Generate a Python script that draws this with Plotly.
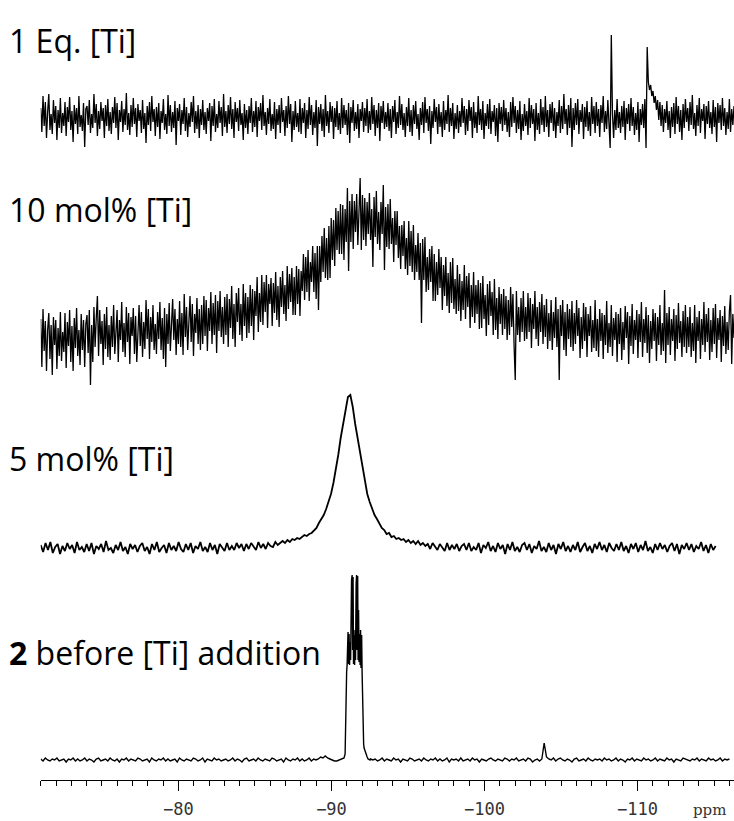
import numpy as np
import plotly.graph_objects as go

# ---------------- data (intensities in arbitrary units) ----------------
# 1 Eq. [Ti]
eq1_ppm_range = (-71.0, -116.3)
eq1_int = [
    10,-14,22,-8,16,-20,6,24,-12,4,-16,18,-5,12,-22,8,-10,20,-15,5,
    -8,16,-18,11,-4,21,-12,7,-24,13,-6,10,-16,22,-9,3,-13,15,-29,9,
    12,-7,18,-15,4,-10,24,-5,14,-18,7,-11,16,-3,10,-20,13,-8,19,-13,
    6,-16,11,-5,21,-10,15,-22,8,-4,17,-14,9,-7,25,-12,5,-17,13,-9,
    20,-6,10,-19,14,-3,8,-15,18,-11,5,-25,12,-7,16,-13,22,-4,9,-18,
    11,-9,15,-21,7,-5,19,-12,4,-16,23,-8,13,-14,6,-10,17,-27,10,-3,
    14,-17,8,-6,20,-13,11,-19,5,-9,16,-4,22,-15,7,-11,13,-20,9,-7,
    18,-12,6,-16,10,-3,15,-23,12,-8,19,-14,4,-10,17,-5,11,-18,24,-9,
    7,-15,13,-6,21,-11,9,-20,16,-4,10,-13,18,-7,5,-22,14,-10,8,-16,
    12,-5,20,-14,7,-9,17,-19,11,-3,15,-12,23,-8,6,-17,10,-6,19,-13,
    4,-11,16,-21,9,-7,13,-15,20,-4,8,-18,12,-10,22,-6,14,-24,7,-12,
    17,-9,5,-14,19,-16,10,-5,15,-20,8,-11,21,-7,13,-17,6,-10,18,-28,
    11,-6,14,-13,9,-19,23,-8,7,-15,16,-4,12,-21,10,-9,17,-12,5,-16,
    20,-10,13,-7,8,-17,15,-25,11,-5,18,-13,6,-11,14,-20,9,-3,16,-14,
    10,-8,19,-15,7,-12,21,-6,13,-18,8,-10,15,-23,12,-5,17,-11,6,-9,
    15,-13,9,-20,12,-4,18,-16,6,-10,22,-7,14,-12,5,-19,11,-8,20,-14,
    8,-18,13,-6,17,-11,4,-22,10,-7,16,-15,21,-5,9,-13,12,-26,7,-10,
    19,-4,11,-16,14,-9,6,-19,17,-12,8,-6,23,-14,10,-8,15,-21,5,-11,
    13,-15,7,-9,20,-5,12,-17,9,-13,18,-3,11,-20,16,-10,6,-15,22,-7,
    9,-12,17,-21,5,-8,14,-11,19,-16,7,-4,13,-18,10,-24,15,-6,11,-13,
    18,-7,10,-14,6,-19,16,-9,21,-5,12,-15,8,-11,17,-22,4,-13,14,-8,
    7,-17,20,-10,13,-6,9,-23,15,-12,5,-16,19,-7,11,-14,22,-9,8,-19,
    14,-5,16,-13,10,-20,6,-8,18,-15,12,-11,24,-6,9,-17,13,-10,20,-29,
    10,-12,15,-7,19,-16,8,-4,14,-21,11,-9,17,-13,6,-18,21,-6,12,-15,
    16,-8,9,-19,13,-5,22,-14,7,-11,18,-17,-30,83,4,-20,8,-12,19,-10,
    6,-15,12,-9,17,-22,10,-6,14,-13,20,-8,11,-17,5,-12,16,-24,9,-7,
    14,-10,19,-30,71,36,28,33,22,27,15,22,8,18,-2,16,-8,13,-14,9,
    -5,17,-12,7,-20,11,-9,15,-16,21,-6,12,-14,8,-22,14,-10,19,-4,10,
    -13,16,-7,23,-11,5,-18,13,-8,20,-15,9,-3,14,-21,12,-6,17,-10,6,
    -16,18,-9,11,-24,15,-5,13,-12,20,-8,10,-17,6,-11,19,-14,9,-7,12,
]

# 10 mol% [Ti]
mol10_ppm_range = (-71.0, -116.3)
mol10_int = [
    16,-32,26,-16,14,-36,5,22,-24,10,-40,18,-10,15,-34,7,-21,23,-26,3,
    -17,22,-33,13,-11,25,-27,9,-36,17,-13,27,-21,5,-30,21,-15,15,-32,11,
    20,-18,25,-50,10,-27,28,-12,17,39,-21,25,-9,14,-30,21,-14,28,-22,10,
    -25,19,-12,30,-19,9,25,-27,15,-5,33,-17,12,-22,28,-7,22,-29,18,-1,
    27,-19,19,-27,14,30,-11,23,-22,13,-14,35,-4,26,-24,18,-7,30,-15,11,
    -19,23,-4,33,-15,17,-24,27,-32,21,-9,32,-16,17,36,-5,26,-20,16,-9,
    34,-12,22,-20,41,-2,28,-15,17,39,-7,31,-21,21,2,37,-9,26,-15,30,
    -9,39,-1,35,-16,27,4,43,-9,32,0,40,-18,34,4,44,-2,28,-9,38,
    0,41,-12,36,7,49,-4,31,-12,42,13,47,0,31,-6,51,9,42,-3,38,
    2,50,9,46,-5,44,19,58,3,42,13,60,10,53,23,60,7,51,31,57,
    9,52,22,63,15,49,8,58,28,64,21,50,14,69,26,61,33,67,20,58,
    20,69,31,66,19,64,44,81,35,78,43,85,34,73,53,89,43,82,36,89,
    25,89,53,99,63,107,57,97,55,109,57,117,75,115,69,127,85,124,81,131,
    81,130,75,126,93,147,64,134,93,141,86,134,103,141,90,132,157,85,140,95,
    137,89,133,101,142,95,126,68,138,98,144,91,123,85,133,101,150,65,128,88,
    131,86,136,91,117,73,124,90,124,77,109,66,110,79,114,66,97,60,114,69,
    104,63,110,55,90,63,102,55,92,12,96,55,98,43,78,45,86,53,89,34,
    81,34,73,40,86,47,78,25,70,39,78,29,62,22,73,32,77,26,56,21,
    70,24,61,14,54,25,70,16,59,28,62,7,50,18,63,12,50,21,55,6,
    52,7,59,16,40,-1,51,10,54,19,43,0,56,5,37,-4,48,11,41,0,
    46,6,39,-5,35,0,48,8,41,-11,-45,44,0,28,-7,37,3,44,-6,28,
    -4,42,3,37,-13,31,6,44,-4,28,-11,33,3,41,-9,30,-2,36,-14,22,
    -6,35,-15,23,-3,38,-12,26,-45,30,-1,35,-15,23,-21,31,-4,26,-12,34,
    -16,22,-9,35,-1,27,-23,18,-14,32,-6,28,-22,21,-1,29,-17,15,-13,35,
    -16,16,-22,26,-6,22,-24,20,-10,34,-18,12,-12,30,-21,17,-5,23,-27,21,
    -9,27,-25,13,-15,29,-3,23,-29,19,-11,31,-19,15,-5,25,-23,21,-7,33,
    -22,16,-8,28,-18,20,-28,14,-14,26,-6,22,-26,18,-10,30,-20,12,-16,45,
    -28,22,-10,28,-20,16,-6,26,-26,20,-14,32,-8,14,-22,24,-12,30,-18,18,
    -12,28,-22,12,-16,30,-28,18,-6,24,-24,16,-10,33,-17,21,-7,27,-25,15,
    -17,27,-9,31,-23,17,-5,25,-27,19,-11,29,-19,13,-15,23,40,-29,21,-3,
]

# 5 mol% [Ti]
mol5_ppm_range = (-71.0, -115.1)
mol5_int = [
    3,-4,5,-2,6,-5,1,4,-6,2,-3,5,-1,3,-5,6,-2,1,-4,4,
    -3,5,-6,2,-1,4,-4,7,-2,0,-5,3,-2,6,-3,1,-6,4,-1,3,
    -4,2,5,-3,1,-6,4,-2,6,-4,0,3,-5,5,-2,2,-3,6,-1,-4,
    4,-2,5,-5,2,-1,6,-3,1,-4,5,-2,3,-6,4,0,-3,5,-2,2,
    -2,5,0,4,-3,4,-1,5,1,-2,6,0,4,-1,5,2,1,6,3,5,
    7,5,8,6,9,8,10,9,11,13,12,14,15,18,20,25,29,33,39,46,
    54,65,78,93,110,124,141,151,153,141,124,110,93,78,65,54,46,39,33,29,
    25,20,18,14,15,11,12,9,10,8,9,6,8,5,7,4,7,3,5,2,
    4,-1,5,1,-2,4,0,-3,5,-2,3,-1,4,-3,2,4,-2,5,-3,1,
    -2,5,-5,3,0,6,-3,2,-4,5,-1,3,-6,4,-2,6,-3,1,-4,3,
    5,-2,4,-5,2,-1,7,-3,1,-4,5,-2,3,-6,4,-1,6,-3,2,-4,
    3,-2,6,-4,1,5,-3,2,-5,4,-1,6,-2,3,-4,5,0,-3,4,-2,
    6,-3,2,-5,4,-1,5,-4,3,-2,7,-3,1,-5,4,-2,5,-1,3,-4,
    2,5,-3,4,-6,3,-1,5,-2,4,-4,2,-1,6,-3,3,-5,4,-2,2,
]

# 2 before [Ti] addition : baseline left of the multiplet, the multiplet, baseline right of it
cmpd2_left_ppm_range = (-71.0, -90.5)
cmpd2_left_int = [
    1,-1,2,0,-1,1,0,2,-1,0,1,-2,1,0,2,-1,1,-1,0,2,
    -1,1,0,-2,1,2,-1,0,1,-1,2,0,-1,1,-2,1,0,2,-1,1,
    0,-1,2,1,-1,0,1,-2,2,0,-1,1,0,2,-1,1,-1,0,1,-2,
    2,0,-1,1,0,-1,2,1,-1,0,2,-2,1,0,-1,2,0,1,-1,0,
    1,-1,0,2,-1,1,0,-2,1,2,-1,0,1,-1,2,0,-1,1,0,-1,
    2,1,-1,0,1,-2,2,0,-1,1,0,2,-1,1,-1,0,2,-1,1,0,
    1,3,2,4,2,1,0,-1,-1,0,
]
cmpd2_mult_ppm = [
    -90.56,-90.69,-90.82,-90.89,-90.92,-90.95,-90.99,-91.02,-91.05,-91.08,
    -91.12,-91.15,-91.18,-91.22,-91.25,-91.28,-91.31,-91.35,-91.38,-91.41,
    -91.44,-91.48,-91.51,-91.54,-91.57,-91.61,-91.64,-91.67,-91.71,-91.74,
    -91.77,-91.80,-91.84,-91.87,-91.90,-91.93,-91.97,-92.00,-92.03,-92.07,
    -92.10,-92.13,-92.20,-92.26,-92.33,-92.39,-92.52,
]
cmpd2_mult_int = [
    0,1,2,6,30,80,88,95,118,128,
    96,126,95,118,100,160,180,185,110,183,
    96,125,95,130,100,176,185,110,184,100,
    150,98,126,95,130,92,125,88,55,30,
    16,12,8,5,3,1,0,
]
cmpd2_right_ppm_range = (-92.55, -116.0)
cmpd2_right_int = [
    1,0,1,-1,0,2,-1,1,0,-1,2,0,1,-2,1,0,-1,2,1,-1,
    0,1,-1,2,0,-1,1,0,2,-1,1,-1,0,2,-2,1,0,1,-1,2,
    -1,0,1,-1,2,0,1,-2,1,0,-1,1,2,0,-1,1,0,-1,2,1,
    -1,1,0,2,-1,0,1,-1,2,1,-2,0,1,-1,1,17,3,1,0,2,
    -1,1,2,0,-1,1,0,-2,1,2,-1,0,1,-1,2,0,-1,1,0,1,
    -1,2,0,1,-1,0,2,-1,1,0,-2,1,0,2,-1,1,0,-1,2,0,
    1,-1,0,2,-1,1,0,-1,2,0,1,-2,1,0,-1,2,1,0,-1,1,
    0,2,-1,1,0,-1,2,0,1,-1,0,2,-1,1,0,1,
]

labels = ["1 Eq. [Ti]", "10 mol% [Ti]", "5 mol% [Ti]", "<b>2</b> before [Ti] addition"]
axis_range = (-71.0, -116.3)
major_step = 10
minor_step = 1
unit_label = "ppm"

# ---------------- build the traces ----------------
def grid(rng, vals):
    return np.linspace(rng[0], rng[1], len(vals))

eq1_x = grid(eq1_ppm_range, eq1_int)
mol10_x = grid(mol10_ppm_range, mol10_int)
mol5_x = grid(mol5_ppm_range, mol5_int)
cmpd2_x = np.concatenate([grid(cmpd2_left_ppm_range, cmpd2_left_int),
                          np.array(cmpd2_mult_ppm),
                          grid(cmpd2_right_ppm_range, cmpd2_right_int)])
cmpd2_y = np.concatenate([cmpd2_left_int, cmpd2_mult_int, cmpd2_right_int])

W, H = 734, 821
m_bottom = 41
plot_h = H - m_bottom
x_left_px = 40.7

# (baseline pixel from top, pixels per intensity unit, line width) per spectrum, top to bottom
stack = [(118, 1.0, 1.3), (335, 1.0, 1.3), (548, 1.0, 1.8), (760, 1.0, 1.4)]
series = [(eq1_x, eq1_int), (mol10_x, mol10_int), (mol5_x, mol5_int), (cmpd2_x, cmpd2_y)]
axis_names = ["y4", "y3", "y2", "y"]

fig = go.Figure()
for (x, y), yname, (_, _, lw) in zip(series, axis_names, stack):
    fig.add_trace(go.Scatter(x=x, y=y, mode="lines", yaxis=yname,
                             line=dict(color="black", width=lw),
                             hoverinfo="skip", showlegend=False))

layout_axes = {}
for (yb, s, _), yname in zip(stack, axis_names):
    key = "yaxis" if yname == "y" else "yaxis" + yname[1:]
    r0 = -(plot_h - yb) / s
    r1 = yb / s
    ax = dict(range=[r0, r1], visible=False, fixedrange=True, domain=[0, 1])
    if yname != "y":
        ax["overlaying"] = "y"
    layout_axes[key] = ax

fig.update_layout(
    width=W, height=H,
    margin=dict(l=0, r=0, t=0, b=m_bottom),
    paper_bgcolor="white", plot_bgcolor="white",
    hovermode=False,
    xaxis=dict(range=list(axis_range), domain=[x_left_px / W, 1],
               showline=True, linecolor="black", linewidth=1,
               showgrid=False, zeroline=False, fixedrange=True,
               tickmode="linear", tick0=0, dtick=major_step,
               ticks="outside", ticklen=10, tickwidth=1, tickcolor="black",
               minor=dict(ticks="outside", ticklen=5, tickwidth=1, tickcolor="black",
                          dtick=minor_step, tick0=0, showgrid=False),
               tickfont=dict(family="DejaVu Sans Mono", size=17, color="#333"),
               ticklabelstandoff=4),
    **layout_axes,
)

label_centers = [40, 209, 458, 652]
for txt, yc in zip(labels, label_centers):
    fig.add_annotation(text=txt, xref="paper", yref="paper",
                       x=7 / W, y=(plot_h - yc) / plot_h,
                       xanchor="left", yanchor="middle", showarrow=False,
                       font=dict(family="Open Sans", size=32, color="black"))

fig.add_annotation(text=unit_label, xref="paper", yref="paper",
                   x=709 / W, y=(plot_h - 810) / plot_h,
                   xanchor="center", yanchor="middle", showarrow=False,
                   font=dict(family="DejaVu Serif", size=15, color="#333"))

fig.write_html("out.html",
               config={"displayModeBar": False, "staticPlot": True},
               post_script="document.body.style.margin='0';document.body.style.overflow='hidden';")
